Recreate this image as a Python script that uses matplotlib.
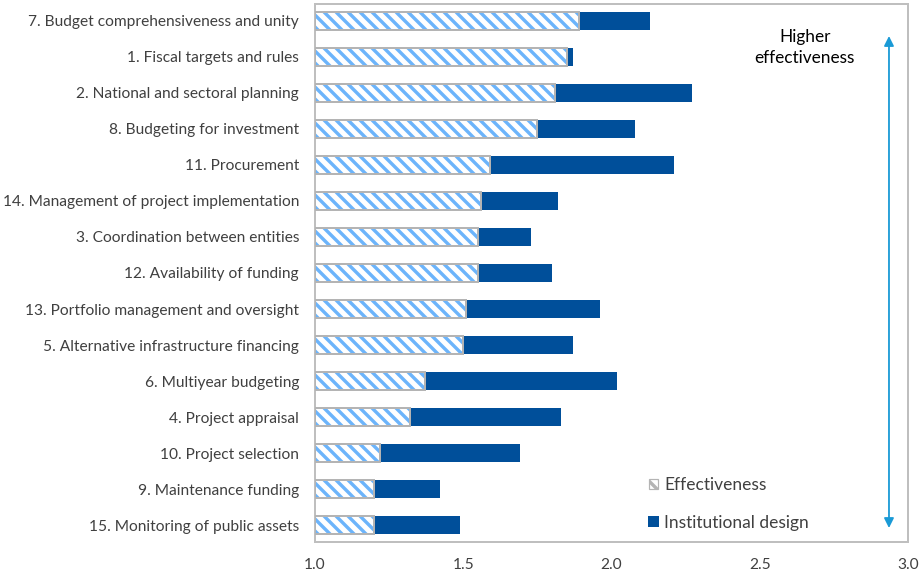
import matplotlib
matplotlib.use("Agg")
import matplotlib.pyplot as plt
from matplotlib.patches import Patch

# =====================================================
# DATA (top to bottom)
# =====================================================
categories = [
    "7. Budget comprehensiveness and unity",
    "1. Fiscal targets and rules",
    "2. National and sectoral planning",
    "8. Budgeting for investment",
    "11. Procurement",
    "14. Management of project implementation",
    "3. Coordination between entities",
    "12. Availability of funding",
    "13. Portfolio management and oversight",
    "5. Alternative infrastructure financing",
    "6. Multiyear budgeting",
    "4. Project appraisal",
    "10. Project selection",
    "9. Maintenance funding",
    "15. Monitoring of public assets",
]
effectiveness = [1.89, 1.85, 1.81, 1.75, 1.59, 1.56, 1.55, 1.55, 1.51, 1.50,
                 1.37, 1.32, 1.22, 1.20, 1.20]
institutional_design = [2.13, 1.87, 2.27, 2.08, 2.21, 1.82, 1.73, 1.80, 1.96, 1.87,
                        2.02, 1.83, 1.69, 1.42, 1.49]

# reverse so the first item sits at the top
categories = categories[::-1]
effectiveness = effectiveness[::-1]
institutional_design = institutional_design[::-1]

# =====================================================
# STYLE
# =====================================================
plt.rcParams['font.family'] = ['Lato', 'DejaVu Sans']
plt.rcParams['hatch.linewidth'] = 1.7
text_color = "#404040"
dark_blue = "#004f9a"
hatch_blue = "#6cb4fb"
grey = "#b4b4b4"
arrow_blue = "#1a9ad6"

# =====================================================
# CHART
# =====================================================
fig = plt.figure(figsize=(923 / 144, 579 / 144), dpi=144)
ax = fig.add_axes([0.3413, 0.0639, 0.9837 - 0.3413, 0.9931 - 0.0639])

y = list(range(len(categories)))
bar_h = 0.52
base = 1.0

ax.barh(y, [v - base for v in institutional_design], left=base, height=bar_h,
        color=dark_blue, linewidth=0, zorder=2)
ax.barh(y, [v - base for v in effectiveness], left=base, height=bar_h,
        color="white", edgecolor=hatch_blue, hatch="\\\\\\\\", linewidth=0, zorder=3)
ax.barh(y, [v - base for v in effectiveness], left=base, height=bar_h,
        fill=False, edgecolor=grey, linewidth=1.0, zorder=4)

ax.set_xlim(1.0, 3.0)
ax.set_ylim(-0.47, len(categories) - 0.53)
ax.set_xticks([1.0, 1.5, 2.0, 2.5, 3.0])
ax.set_xticklabels(["1.0", "1.5", "2.0", "2.5", "3.0"])
ax.set_yticks(y)
ax.set_yticklabels(categories)
ax.tick_params(length=0, labelsize=7.75, colors=text_color)
ax.tick_params(axis='x', pad=8)
ax.tick_params(axis='y', pad=8)
for s in ax.spines.values():
    s.set_color("#bfbfbf")
    s.set_linewidth(1.0)

# legend
handles = [
    Patch(facecolor="white", edgecolor=grey, hatch="\\\\\\\\", linewidth=0.6),
    Patch(facecolor=dark_blue, edgecolor=dark_blue),
]
leg = ax.legend(handles, ["Effectiveness", "Institutional design"],
                loc="lower left", bbox_to_anchor=(0.545, 0.0), frameon=False,
                fontsize=8.7, handlelength=0.5, handleheight=0.5,
                handletextpad=0.35, labelspacing=1.25, borderaxespad=0.25)
for t in leg.get_texts():
    t.set_color(text_color)

# arrow and text
ax.annotate("", xy=(0.968, 0.9405), xytext=(0.968, 0.026), xycoords="axes fraction",
            arrowprops=dict(arrowstyle="<|-|>", color=arrow_blue, lw=0.9,
                            mutation_scale=10, shrinkA=0, shrinkB=0))
ax.text(0.826, 0.919, "Higher\neffectiveness", transform=ax.transAxes,
        ha="center", va="center", fontsize=8.6, color="black", linespacing=1.4)

plt.savefig("out.png", dpi=144)
